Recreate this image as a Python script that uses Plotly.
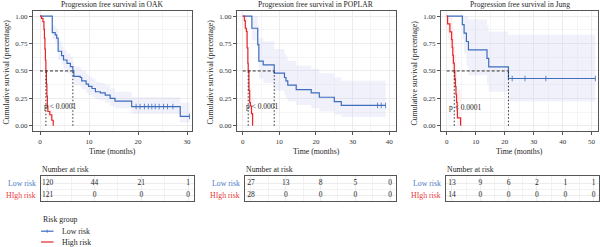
import plotly.graph_objects as go

FONT = "Liberation Serif"
BLUE = "#3d6dbd"
RED = "#e5262b"
BLUE_BAND = "rgba(205,205,240,0.28)"
RED_BAND = "rgba(250,195,195,0.25)"
TXT = "#262626"

# ---------------- data ----------------
titles = ["Progression free survival in OAK",
          "Progression free survival in POPLAR",
          "Progression free survival in Jung"]

# OAK
oak_low_t = [0, 2.5, 3.1, 3.4, 3.7, 4.4, 4.8, 5.5, 6.2, 6.7, 6.9, 8.2, 8.5, 9.4, 9.9, 10.6, 11.3, 12.3, 13.3, 14.3, 15.3, 18.7, 28.6]
oak_low_s = [1.0, 0.85, 0.83, 0.80, 0.68, 0.64, 0.60, 0.57, 0.54, 0.50, 0.45, 0.44, 0.41, 0.38, 0.36, 0.34, 0.31, 0.30, 0.28, 0.25, 0.225, 0.175, 0.085]
oak_low_up = [1.0, 0.92, 0.90, 0.88, 0.77, 0.73, 0.69, 0.66, 0.63, 0.59, 0.54, 0.53, 0.50, 0.47, 0.45, 0.43, 0.40, 0.39, 0.37, 0.34, 0.31, 0.26, 0.21]
oak_low_lo = [1.0, 0.79, 0.76, 0.73, 0.60, 0.56, 0.52, 0.48, 0.45, 0.42, 0.37, 0.36, 0.33, 0.30, 0.28, 0.26, 0.24, 0.23, 0.21, 0.18, 0.16, 0.11, 0.03]
oak_low_end = 30.5
oak_low_cens = [19.6, 20.4, 21.3, 22.1, 22.8, 23.5, 24.3, 25.2, 26.0, 27.1, 30.5]
oak_high_t = [0, 0.3, 0.6, 0.8, 0.9, 1.0, 1.1, 1.2, 1.3, 1.4, 1.5, 1.6, 2.0, 2.4, 2.7]
oak_high_s = [1.0, 0.98, 0.95, 0.88, 0.80, 0.70, 0.60, 0.50, 0.38, 0.27, 0.18, 0.13, 0.10, 0.05, 0.0]
oak_high_up = [1.0, 1.0, 0.99, 0.94, 0.87, 0.78, 0.69, 0.59, 0.47, 0.36, 0.26, 0.20, 0.16, 0.10, 0.0]
oak_high_lo = [1.0, 0.95, 0.90, 0.82, 0.73, 0.62, 0.51, 0.41, 0.30, 0.20, 0.12, 0.08, 0.05, 0.02, 0.0]
oak_high_end = 2.7
oak_times = [0, 10, 20, 30]
oak_risk_low = [120, 44, 21, 1]
oak_risk_high = [121, 0, 0, 0]

# POPLAR
pop_low_t = [0, 2.5, 4.1, 4.4, 5.6, 8.6, 11.4, 11.8, 12.3, 14.6, 18.7, 20.9, 25.0, 26.9]
pop_low_s = [1.0, 0.89, 0.74, 0.59, 0.555, 0.48, 0.44, 0.41, 0.37, 0.33, 0.30, 0.26, 0.22, 0.185]
pop_low_up = [1.0, 1.0, 0.92, 0.80, 0.77, 0.70, 0.66, 0.63, 0.59, 0.55, 0.52, 0.48, 0.44, 0.41]
pop_low_lo = [1.0, 0.78, 0.58, 0.43, 0.39, 0.32, 0.28, 0.25, 0.22, 0.19, 0.16, 0.13, 0.10, 0.08]
pop_low_end = 39.0
pop_low_cens = [36.8, 37.8, 39.0]
pop_high_t = [0, 0.45, 0.7, 1.0, 1.2, 1.4, 1.5, 1.7, 1.9, 2.1, 2.4, 2.7]
pop_high_s = [1.0, 0.96, 0.89, 0.86, 0.71, 0.57, 0.50, 0.32, 0.21, 0.18, 0.11, 0.0]
pop_high_up = [1.0, 1.0, 1.0, 0.99, 0.88, 0.76, 0.70, 0.52, 0.40, 0.36, 0.27, 0.0]
pop_high_lo = [1.0, 0.89, 0.78, 0.73, 0.56, 0.42, 0.35, 0.19, 0.10, 0.08, 0.04, 0.0]
pop_high_end = 2.7
pop_times = [0, 10, 20, 30, 40]
pop_risk_low = [27, 13, 8, 5, 0]
pop_risk_high = [28, 0, 0, 0, 0]

# Jung
jung_low_t = [0, 5.4, 6.0, 6.8, 7.5, 13.9, 14.5, 21.3]
jung_low_s = [1.0, 0.923, 0.846, 0.769, 0.692, 0.615, 0.538, 0.431]
jung_low_up = [1.0, 1.0, 1.0, 1.0, 0.97, 0.92, 0.86, 0.83]
jung_low_lo = [1.0, 0.79, 0.66, 0.55, 0.46, 0.38, 0.31, 0.22]
jung_low_end = 51.3
jung_low_cens = [22.6, 27.0, 34.2, 51.3]
jung_high_t = [0, 0.3, 1.1, 1.7, 1.9, 2.1, 2.3, 2.6, 2.8, 3.0, 3.2, 3.4, 3.6, 3.7, 4.8]
jung_high_s = [1.0, 0.929, 0.857, 0.786, 0.714, 0.643, 0.571, 0.5, 0.429, 0.357, 0.286, 0.214, 0.143, 0.071, 0.0]
jung_high_up = [1.0, 1.0, 1.0, 0.99, 0.95, 0.90, 0.84, 0.79, 0.72, 0.65, 0.58, 0.50, 0.42, 0.33, 0.0]
jung_high_lo = [1.0, 0.80, 0.70, 0.61, 0.52, 0.45, 0.38, 0.32, 0.25, 0.19, 0.14, 0.09, 0.05, 0.01, 0.0]
jung_high_end = 4.8
jung_times = [0, 10, 20, 30, 40, 50]
jung_risk_low = [13, 9, 6, 2, 1, 1]
jung_risk_high = [14, 0, 0, 0, 0, 0]

p_text = ["p < 0.0001", "p < 0.0001", "p < 0.0001"]
p_pos = [(4.1, 0.18), (5.3, 0.18), (6.6, 0.165)]

# ---------------- layout geometry (px) ----------------
W, H = 600, 247
panel_x = [(33, 192), (237, 395.5), (441, 598)]
panel_xrange = [(-1.43, 31.0), (-1.56, 41.7), (-1.97, 52.2)]
panel_y = (10.7, 131.2)
table_x = [(41, 194.3), (245, 396), (446, 598.7)]
table_xrange = [(-1.43, 31.3), (-1.72, 41.7), (-2.1, 51.8)]
table_y = (175.5, 201)

def px(x):
    return x / W

def py(y):
    return 1 - y / H

studies = [
    dict(low=(oak_low_t, oak_low_s, oak_low_up, oak_low_lo, oak_low_end, oak_low_cens),
         high=(oak_high_t, oak_high_s, oak_high_up, oak_high_lo, oak_high_end),
         times=oak_times, rl=oak_risk_low, rh=oak_risk_high),
    dict(low=(pop_low_t, pop_low_s, pop_low_up, pop_low_lo, pop_low_end, pop_low_cens),
         high=(pop_high_t, pop_high_s, pop_high_up, pop_high_lo, pop_high_end),
         times=pop_times, rl=pop_risk_low, rh=pop_risk_high),
    dict(low=(jung_low_t, jung_low_s, jung_low_up, jung_low_lo, jung_low_end, jung_low_cens),
         high=(jung_high_t, jung_high_s, jung_high_up, jung_high_lo, jung_high_end),
         times=jung_times, rl=jung_risk_low, rh=jung_risk_high),
]

def ext(t, v, end):
    return list(t) + [end], list(v) + [v[-1]]

def surv_at(t, s, x):
    val = s[0]
    for ti, si in zip(t, s):
        if ti <= x:
            val = si
    return val

def median(t, s):
    for ti, si in zip(t, s):
        if si <= 0.5:
            return ti
    return None

def ann(x, y, text, size=7.8, color=TXT, xanchor="center", **kw):
    d = dict(x=px(x), y=py(y), xref="paper", yref="paper", text=text, showarrow=False,
             xanchor=xanchor, yanchor="middle",
             font=dict(size=size, color=color, family=FONT))
    d.update(kw)
    return d

fig = go.Figure()
shapes = []
annotations = []

for i, st in enumerate(studies):
    n = i + 1
    xa = "x" if n == 1 else f"x{n}"
    ya = "y" if n == 1 else f"y{n}"
    lt, ls, lup, llo, lend, lcens = st["low"]
    ht, hs, hup, hlo, hend = st["high"]
    # bands
    for (t, up, lo, end, col) in [(lt, lup, llo, lend, BLUE_BAND), (ht, hup, hlo, hend, RED_BAND)]:
        x1, y1 = ext(t, lo, end)
        fig.add_trace(go.Scatter(x=x1, y=y1, mode="lines", line=dict(width=0, shape="hv"),
                                 xaxis=xa, yaxis=ya, showlegend=False, hoverinfo="skip"))
        x2, y2 = ext(t, up, end)
        fig.add_trace(go.Scatter(x=x2, y=y2, mode="lines", line=dict(width=0, shape="hv"),
                                 fill="tonexty", fillcolor=col,
                                 xaxis=xa, yaxis=ya, showlegend=False, hoverinfo="skip"))
    # median lines
    ml, mh = median(lt, ls), median(ht, hs)
    mmax = max(ml, mh)
    shapes.append(dict(type="line", xref=xa, yref=ya, x0=0, x1=mmax, y0=0.5, y1=0.5,
                       line=dict(color="#1a1a1a", width=0.9, dash="3px,2px")))
    for m in (ml, mh):
        shapes.append(dict(type="line", xref=xa, yref=ya, x0=m, x1=m, y0=0, y1=0.5,
                           line=dict(color="#1a1a1a", width=0.9, dash="1.5px,2px")))
    # curves
    x1, y1 = ext(lt, ls, lend)
    fig.add_trace(go.Scatter(x=x1, y=y1, mode="lines", line=dict(color=BLUE, width=1.2, shape="hv"),
                             xaxis=xa, yaxis=ya, name="Low risk", showlegend=False))
    x2, y2 = ext(ht, hs, hend)
    fig.add_trace(go.Scatter(x=x2, y=y2, mode="lines", line=dict(color=RED, width=1.2, shape="hv"),
                             xaxis=xa, yaxis=ya, name="High risk", showlegend=False))
    fig.add_trace(go.Scatter(x=lcens, y=[surv_at(lt, ls, c) for c in lcens], mode="markers",
                             marker=dict(symbol="line-ns", size=4, line=dict(color=BLUE, width=0.8)),
                             xaxis=xa, yaxis=ya, showlegend=False, hoverinfo="skip"))
    # p value
    annotations.append(dict(x=p_pos[i][0], y=p_pos[i][1], xref=xa, yref=ya, text=p_text[i],
                            showarrow=False, xanchor="center", yanchor="middle",
                            font=dict(size=7.5, color=TXT, family=FONT)))
    # risk table
    tx = f"x{n + 3}"
    ty = f"y{n + 3}"
    fig.add_trace(go.Scatter(x=st["times"], y=[2] * len(st["times"]), mode="text",
                             text=[str(v) for v in st["rl"]],
                             textfont=dict(size=7.5, color=TXT, family=FONT),
                             xaxis=tx, yaxis=ty, showlegend=False, hoverinfo="skip"))
    fig.add_trace(go.Scatter(x=st["times"], y=[1] * len(st["times"]), mode="text",
                             text=[str(v) for v in st["rh"]],
                             textfont=dict(size=7.5, color=TXT, family=FONT),
                             xaxis=tx, yaxis=ty, showlegend=False, hoverinfo="skip"))

    # axes
    x0p, x1p = panel_x[i]
    ax_common = dict(showline=True, mirror=True, linecolor="#555555", linewidth=1,
                     showgrid=True, gridcolor="#ececec", gridwidth=0.6, zeroline=False)
    fig.layout[f"xaxis{'' if n == 1 else n}"] = dict(
        domain=[px(x0p), px(x1p)], range=list(panel_xrange[i]), anchor=ya,
        tickvals=st["times"], ticks="outside", ticklen=3, tickcolor="#555555", tickwidth=0.8,
        tickfont=dict(size=7, color="#333333", family=FONT),
        minor=dict(dtick=5, tick0=0, showgrid=True, gridcolor="#f5f5f5", gridwidth=0.5),
        **ax_common)
    fig.layout[f"yaxis{'' if n == 1 else n}"] = dict(
        domain=[py(panel_y[1]), py(panel_y[0])], range=[-0.05, 1.05], anchor=xa,
        tickvals=[0, 0.25, 0.5, 0.75, 1.0], ticktext=["0.00", "0.25", "0.50", "0.75", "1.00"],
        ticks="outside", ticklen=3, tickcolor="#555555", tickwidth=0.8,
        tickfont=dict(size=7, color="#333333", family=FONT),
        minor=dict(dtick=0.125, tick0=0, showgrid=True, gridcolor="#f5f5f5", gridwidth=0.5),
        **ax_common)
    tx0, tx1 = table_x[i]
    fig.layout[f"xaxis{n + 3}"] = dict(
        domain=[px(tx0), px(tx1)], range=list(table_xrange[i]), anchor=ty,
        tickvals=st["times"], showticklabels=False, ticks="",
        minor=dict(dtick=5, tick0=0, showgrid=True, gridcolor="#f2f2f2", gridwidth=0.5),
        **ax_common)
    fig.layout[f"yaxis{n + 3}"] = dict(
        domain=[py(table_y[1]), py(table_y[0])], range=[0.54, 2.67], anchor=tx,
        tickvals=[1, 2], showticklabels=False, ticks="",
        minor=dict(tickvals=[1.5], showgrid=True, gridcolor="#f2f2f2", gridwidth=0.5),
        **ax_common)

    # titles
    cx = (x0p + x1p) / 2
    annotations.append(ann(cx, 4.8, titles[i], size=7.6))
    annotations.append(ann(x0p - 27, 72.5, "Cumulative survival (percentage)", textangle=-90))
    annotations.append(ann(cx, 151.8, "Time (months)"))
    annotations.append(ann(tx0 - 1, 169.3, "Number at risk", xanchor="left"))
    annotations.append(ann(tx0 - 3.5, 183.5, "Low risk", color="#4a78c8", xanchor="right"))
    annotations.append(ann(tx0 - 3.5, 195.6, "HIgh risk", color="#e8393a", xanchor="right"))

# legend (manual)
annotations.append(ann(40.5, 219.3, "Risk group", xanchor="left"))
legend_items = [("Low risk", BLUE, 231.2), ("High risk", RED, 242.0)]
for name, col, yy in legend_items:
    shapes.append(dict(type="line", xref="paper", yref="paper", x0=px(41), x1=px(53.5),
                       y0=py(yy), y1=py(yy), line=dict(color=col, width=1.2)))
    annotations.append(ann(59.5, yy, name, xanchor="left"))
shapes.append(dict(type="line", xref="paper", yref="paper", x0=px(47.2), x1=px(47.2),
                   y0=py(229.6), y1=py(232.8), line=dict(color=BLUE, width=0.8)))

fig.update_layout(
    width=W, height=H, margin=dict(l=0, r=0, t=0, b=0),
    paper_bgcolor="white", plot_bgcolor="white",
    showlegend=False, shapes=shapes, annotations=annotations,
    font=dict(family=FONT, color=TXT),
)

fig.write_html("out.html")
